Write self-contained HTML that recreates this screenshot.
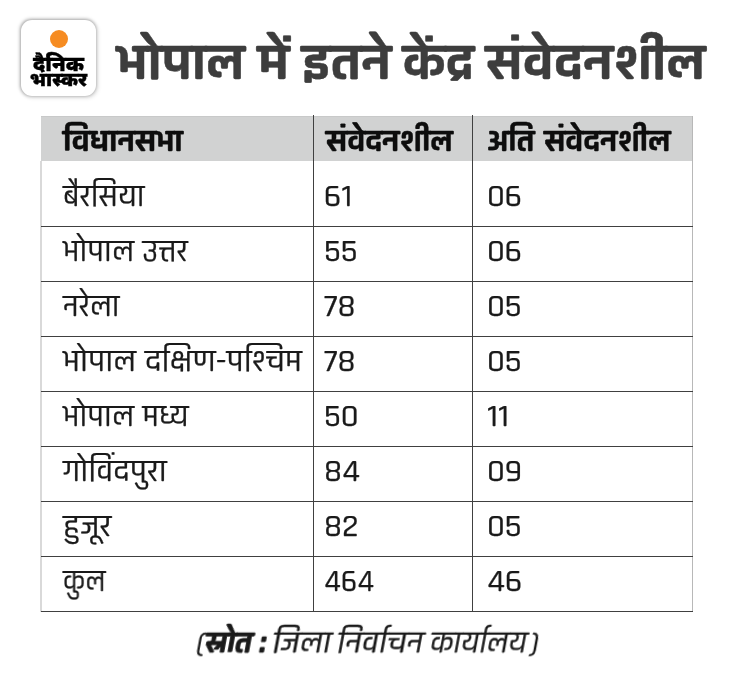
<!DOCTYPE html>
<html lang="hi">
<head>
<meta charset="utf-8">
<title>भोपाल में इतने केंद्र संवेदनशील</title>
<style>
  html, body { margin: 0; padding: 0; background: #ffffff; }
  body {
    width: 730px; height: 691px; position: relative; overflow: hidden;
    font-family: "Rajdhani", "Khand", "Hind", "Mukta", "Noto Sans Devanagari", "Lohit Devanagari", "FreeSans", "Liberation Sans", sans-serif;
    color: #111;
  }
  .abs { position: absolute; white-space: nowrap; will-change: transform; }

  /* logo */
  .logo {
    position: absolute; left: 21px; top: 20px; width: 75px; height: 76px;
    background: #fff; border-radius: 11px;
    box-shadow: -0.5px -0.5px 3.5px rgba(0,0,0,0.34), 1.5px 1.5px 4px rgba(0,0,0,0.10);
  }
  .logo .sun {
    position: absolute; left: 28.6px; top: 9.7px; width: 18.8px; height: 18.8px;
    border-radius: 50%; background: #f68c22;
  }
  .logo .l1, .logo .l2 {
    position: absolute; left: 0; width: 75px; text-align: center;
    font-family: "Noto Sans Devanagari", "Mukta", "Hind", "Rajdhani", "Lohit Devanagari", "FreeSans", "Liberation Sans", sans-serif;
    font-weight: 900; color: #000; white-space: nowrap; line-height: 30px; will-change: transform; -webkit-text-stroke: 0.35px #000;
    transform-origin: 50% 50%;
  }
  .logo .l1 { top: 31.1px; font-size: 21px; }
  .logo .l2 { top: 46.8px; font-size: 18.6px; transform: scaleX(1.055); }

  /* title */
  .title {
    left: 117px; top: 24px; font-size: 52px; font-weight: 700; color: #3d3d3d; -webkit-text-stroke: 0.4px #3d3d3d;
    line-height: 80px; transform-origin: 0 50%; transform: scaleX(1.153);
  }

  /* table */
  .thead { position: absolute; left: 41px; top: 116px; width: 652px; height: 45px; background: #d1d2d2; box-shadow: inset 0 1px 0 #c8c9c9; }
  .vline { position: absolute; width: 1px; background: #404040; top: 115px; height: 497px; }
  .hline { position: absolute; left: 41px; width: 652px; height: 1px; background: #404040; }
  .lborder { position: absolute; left: 40px; top: 161px; width: 2px; height: 451px; background: #d9d9d9; }
  .rborder { position: absolute; left: 692px; top: 116px; width: 1px; height: 496px; background: #b8b8b8; }

  .th.c1 { left: 62.8px; }
  .th { font-size: 32px; font-weight: 700; color: #0d0d0d; line-height: 45px; top: 119px; -webkit-text-stroke: 0.4px #0d0d0d;
        transform-origin: 0 50%; transform: scaleX(1.11); }
  .td { font-size: 32px; font-weight: 500; -webkit-text-stroke: 0.25px #1a1a1a; color: #1a1a1a; line-height: 55px; margin-top: 2px;
        transform-origin: 0 50%; transform: scaleX(1.072); }
  .c1 { left: 63px; } .c2 { left: 324px; } .c3 { left: 487px; }
  .th.c2 { left: 325.5px; transform: scaleX(1.096); }
  .th.c3 { left: 487px; transform: scaleX(1.092); word-spacing: 1.9px; }

  .src { left: 196.5px; top: 617.5px; font-size: 31.5px; line-height: 50px;
         font-weight: 500; -webkit-text-stroke: 0.3px #1a1a1a; color: #1a1a1a;
         transform-origin: 0 50%; transform: scaleX(1.056) skewX(-10deg); }
  .src b { font-weight: 700; -webkit-text-stroke: 0.7px #1a1a1a; margin-right: -1.3px; }
  .src .w { display: inline-block; transform-origin: 0 50%; }
  .src .p1 { margin-right: -1.2px; }
  .src .p2 { margin-left: -0.4px; }
</style>
</head>
<body>

<div class="logo">
  <div class="sun"></div>
  <div class="l1">दैनिक</div>
  <div class="l2">भास्कर</div>
</div>

<div class="abs title" style="left:117px;transform:scaleX(1.153)">भोपाल</div>
<div class="abs title" style="left:258px;transform:scaleX(1.18)">में</div>
<div class="abs title" style="left:301.6px;transform:scaleX(1.165)">इतने</div>
<div class="abs title" style="left:402.6px;transform:scaleX(1.12)">केंद्र</div>
<div class="abs title" style="left:486px;transform:scaleX(1.166)">संवेदनशील</div>

<div class="thead"></div>
<div class="lborder"></div>
<div class="rborder"></div>
<div class="vline" style="left:313px"></div>
<div class="vline" style="left:472px"></div>
<div class="hline" style="top:226px"></div>
<div class="hline" style="top:281px"></div>
<div class="hline" style="top:336px"></div>
<div class="hline" style="top:391px"></div>
<div class="hline" style="top:446px"></div>
<div class="hline" style="top:501px"></div>
<div class="hline" style="top:556px"></div>
<div class="hline" style="top:611px"></div>

<div class="abs th c1">विधानसभा</div>
<div class="abs th c2">संवेदनशील</div>
<div class="abs th c3">अति संवेदनशील</div>

<div class="abs td c1" style="top:167px;transform:scaleX(1.037)">बैरसिया</div>
<div class="abs td c2" style="top:167px">61</div>
<div class="abs td c3" style="top:167px">06</div>

<div class="abs td c1" style="top:222px;transform:scaleX(1.042)">भोपाल उत्तर</div>
<div class="abs td c2" style="top:222px">55</div>
<div class="abs td c3" style="top:222px">06</div>

<div class="abs td c1" style="top:277px;transform:scaleX(1.03)">नरेला</div>
<div class="abs td c2" style="top:277px">78</div>
<div class="abs td c3" style="top:277px">05</div>

<div class="abs td c1" style="top:332px">भोपाल दक्षिण-पश्चिम</div>
<div class="abs td c2" style="top:332px">78</div>
<div class="abs td c3" style="top:332px">05</div>

<div class="abs td c1" style="top:387px;transform:scaleX(1.042)">भोपाल मध्य</div>
<div class="abs td c2" style="top:387px">50</div>
<div class="abs td c3" style="top:387px">11</div>

<div class="abs td c1" style="top:442px">गोविंदपुरा</div>
<div class="abs td c2" style="top:442px">84</div>
<div class="abs td c3" style="top:442px">09</div>

<div class="abs td c1" style="top:497px;transform:scaleX(1.1)">हुजूर</div>
<div class="abs td c2" style="top:497px">82</div>
<div class="abs td c3" style="top:497px">05</div>

<div class="abs td c1" style="top:552px;transform:scaleX(0.956)">कुल</div>
<div class="abs td c2" style="top:552px;transform:scaleX(1.005)">464</div>
<div class="abs td c3" style="top:552px">46</div>

<div class="abs src"><span class="p1">(</span><b>स्रोत :</b> <span class="w" style="transform:scaleX(1.04);margin-left:-0.4px">जिला</span> <span class="w" style="transform:scaleX(1.043);margin-left:-0.2px">निर्वाचन</span> <span class="w" style="transform:scaleX(0.97);margin-left:1.7px">कार्यालय</span><span class="p2">)</span></div>

</body>
</html>
